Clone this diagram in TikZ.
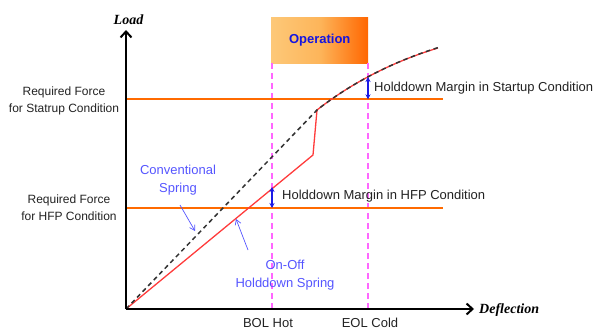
\documentclass[tikz,border=0pt]{standalone}
\usepackage{fontspec}
\setmainfont{Liberation Sans}
\newfontfamily\axisfont{Liberation Serif}
\usetikzlibrary{arrows.meta}
\definecolor{orangeline}{HTML}{FF6A00}
\definecolor{magentadash}{HTML}{FF66FF}
\definecolor{springred}{HTML}{FF3B3B}
\definecolor{marginblue}{HTML}{1A1AE6}
\definecolor{labelblue}{HTML}{5555FF}
\definecolor{boxlight}{HTML}{FDC878}
\definecolor{boxmid}{HTML}{FDB55A}
\definecolor{boxdark}{HTML}{FF6600}
\definecolor{textgray}{HTML}{222222}
\definecolor{optext}{HTML}{1515E0}
\begin{document}
\begin{tikzpicture}[x=1pt,y=-1pt,
  axisline/.style={line width=2.6pt,black},
  axislabel/.style={font=\axisfont\bfseries\itshape\fontsize{14}{16}\selectfont,inner sep=0pt},
  reqline/.style={orangeline,line width=1.8pt},
  stateline/.style={magentadash,line width=1.4pt,dash pattern=on 6pt off 4pt},
  onoff/.style={springred,line width=1.3pt},
  conv/.style={black!80,line width=1.5pt,dash pattern=on 4.5pt off 3.5pt},
  margin/.style={marginblue,line width=1.4pt,{Stealth[length=5pt,width=5pt]}-{Stealth[length=5pt,width=5pt]}},
  pointer/.style={labelblue,line width=0.7pt,-{Straight Barb[length=5pt,width=6pt]}},
  plain/.style={font=\fontsize{13}{18}\selectfont,text=textgray,inner sep=0pt,align=center},
  bluelabel/.style={font=\fontsize{13}{18}\selectfont,text=labelblue,inner sep=0pt,align=center},
  opbox/.style={draw=none,left color=boxlight,right color=boxdark,middle color=boxmid,
    font=\bfseries\fontsize{13}{15}\selectfont,text=optext,inner sep=0pt}
]
\useasboundingbox (0,0) rectangle (597,329);
% operation box
\node[opbox,minimum width=97pt,minimum height=46pt,anchor=north west] (op) at (271,17) {Operation};
% coordinates
\coordinate (O) at (126,309);
\coordinate (ytip) at (126,30);
\coordinate (xtip) at (474,309);
\coordinate (bolT) at (272,63);
\coordinate (bolB) at (272,309);
\coordinate (eolT) at (368,63);
\coordinate (eolB) at (368,309);
\coordinate (sL) at (126,99.3);
\coordinate (sR) at (443,99.3);
\coordinate (hL) at (126,208);
\coordinate (hR) at (443,208);
\coordinate (k1) at (313,155);
\coordinate (k2) at (317,110);
\coordinate (rend) at (438,48);
\coordinate (dend) at (440,47);
\coordinate (m1a) at (272,208);
\coordinate (m1b) at (272,187);
\coordinate (m2a) at (368,99.3);
\coordinate (m2b) at (368,77);
\coordinate (csT) at (180,205);
\coordinate (csH) at (195,231);
\coordinate (ooT) at (248,250);
\coordinate (ooH) at (236,219);
% state lines
\draw[stateline] (bolT) -- (bolB);
\draw[stateline] (eolT) -- (eolB);
% required force lines
\draw[reqline] (sL) -- (sR);
\draw[reqline] (hL) -- (hR);
% springs
\draw[onoff] (O) -- (k1) -- (k2) .. controls (345,88) and (385,64) .. (rend);
\draw[conv] (O) -- (k2) .. controls (345,88) and (385,64) .. (dend);
% margins
\draw[margin] (m1a) -- (m1b);
\draw[margin] (m2a) -- (m2b);
% axes
\draw[axisline,-{Straight Barb[length=6pt,width=11pt,line width=2pt]}] (O) -- (ytip);
\draw[axisline,-{Straight Barb[length=6pt,width=11pt,line width=2pt]}] (O) -- (xtip);
\node[axislabel] (load) at (128.5,20) {Load};
\node[axislabel,anchor=west] (defl) at (479,310) {Deflection};
% labels
\node[plain,font=\fontsize{12}{17}\selectfont] (reqS) at (64,100.5) {Required Force\\for Statrup Condition};
\node[plain,font=\fontsize{12}{17}\selectfont] (reqH) at (69,208) {Required Force\\for HFP Condition};
\node[plain,anchor=west] (hmS) at (374,88) {Holddown Margin in Startup Condition};
\node[plain,anchor=west] (hmH) at (282,196) {Holddown Margin in HFP Condition};
\node[plain] (bol) at (268,323) {BOL Hot};
\node[plain] (eol) at (370,323) {EOL Cold};
\node[bluelabel] (cs) at (178,180) {Conventional\\Spring};
\node[bluelabel] (oo) at (285,275) {On-Off\\Holddown Spring};
\draw[pointer] (csT) -- (csH);
\draw[pointer] (ooT) -- (ooH);
\end{tikzpicture}
\end{document}
